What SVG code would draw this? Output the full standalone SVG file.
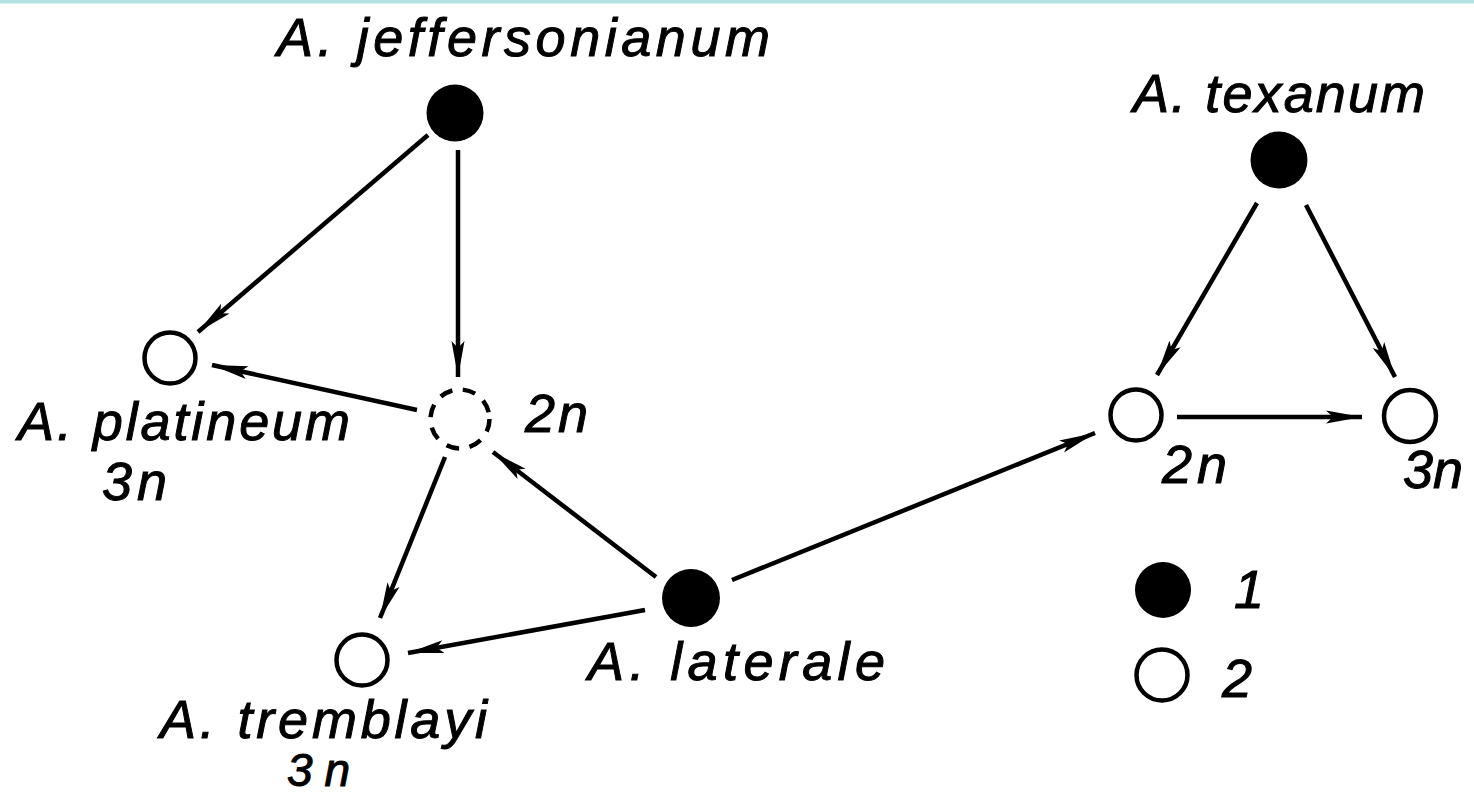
<svg xmlns="http://www.w3.org/2000/svg" width="1474" height="797" viewBox="0 0 1474 797">
<style>
.lbl{font-family:"Liberation Sans","DejaVu Sans",sans-serif;font-style:italic;font-size:54px;fill:#000;stroke:#000;stroke-width:1}
.full{fill:#000}
.open{fill:#fff;stroke:#000;stroke-width:4.5}
.dash{fill:#fff;stroke:#000;stroke-width:4.5;stroke-dasharray:13 10.6}
.arr{stroke:#000;stroke-width:4.5;fill:none;marker-end:url(#ah)}
</style>
<defs>
<marker id="ah" markerUnits="userSpaceOnUse" markerWidth="40" markerHeight="18" refX="36" refY="8" orient="auto">
<path d="M0,1.5 L36,8 L0,14.5 L7,8 Z" fill="#000"/>
</marker>
</defs>
<rect x="0" y="0" width="1474" height="797" fill="#fff"/>
<rect x="0" y="0" width="1474" height="3.5" fill="#b4e0e3"/>
<g id="connectors">
<line class="arr" x1="428" y1="135" x2="198" y2="332"/>
<line class="arr" x1="458" y1="150" x2="458" y2="377"/>
<line class="arr" x1="417" y1="410" x2="212" y2="365"/>
<line class="arr" x1="445" y1="457" x2="380" y2="618"/>
<line class="arr" x1="656" y1="577" x2="493" y2="452"/>
<line class="arr" x1="645" y1="610" x2="408" y2="653"/>
<line class="arr" x1="732" y1="580" x2="1095" y2="433"/>
<line class="arr" x1="1257" y1="203" x2="1157" y2="375"/>
<line class="arr" x1="1306" y1="205" x2="1395" y2="377"/>
<line class="arr" x1="1177" y1="417" x2="1362" y2="417"/>
</g>
<g id="jeffersonianum">
<circle class="full" cx="455" cy="113" r="28.5"/>
<text class="lbl" x="277" y="56" textLength="493" lengthAdjust="spacing">A. jeffersonianum</text>
</g>
<g id="platineum">
<circle class="open" cx="170" cy="358" r="25.5"/>
<text class="lbl" x="18" y="440" textLength="332" lengthAdjust="spacing">A. platineum</text>
<text class="lbl" x="102" y="500" textLength="65" lengthAdjust="spacing">3n</text>
</g>
<g id="hybrid2n">
<circle class="dash" cx="460" cy="419" r="29.5"/>
<text class="lbl" x="525" y="432" textLength="63" lengthAdjust="spacing">2n</text>
</g>
<g id="tremblayi">
<circle class="open" cx="362" cy="660" r="25.5"/>
<text class="lbl" x="160" y="738" textLength="327" lengthAdjust="spacing">A. tremblayi</text>
<text class="lbl" x="287" y="786" textLength="63" lengthAdjust="spacing" style="font-size:46px">3n</text>
</g>
<g id="laterale">
<circle class="full" cx="691" cy="598" r="29"/>
<text class="lbl" x="588" y="680" textLength="297" lengthAdjust="spacing">A. laterale</text>
</g>
<g id="texanum">
<circle class="full" cx="1279" cy="160" r="28.5"/>
<text class="lbl" x="1133" y="112" textLength="292" lengthAdjust="spacing">A. texanum</text>
</g>
<g id="texanum2n">
<circle class="open" cx="1136" cy="415" r="25.5"/>
<text class="lbl" x="1162" y="483" textLength="65" lengthAdjust="spacing">2n</text>
</g>
<g id="texanum3n">
<circle class="open" cx="1410" cy="416" r="26"/>
<text class="lbl" x="1403" y="488" textLength="60" lengthAdjust="spacing">3n</text>
</g>
<g id="legend">
<circle class="full" cx="1163" cy="590" r="28"/>
<text class="lbl" x="1234" y="608">1</text>
<circle class="open" cx="1162" cy="675" r="25.5"/>
<text class="lbl" x="1222" y="697">2</text>
</g>
</svg>
